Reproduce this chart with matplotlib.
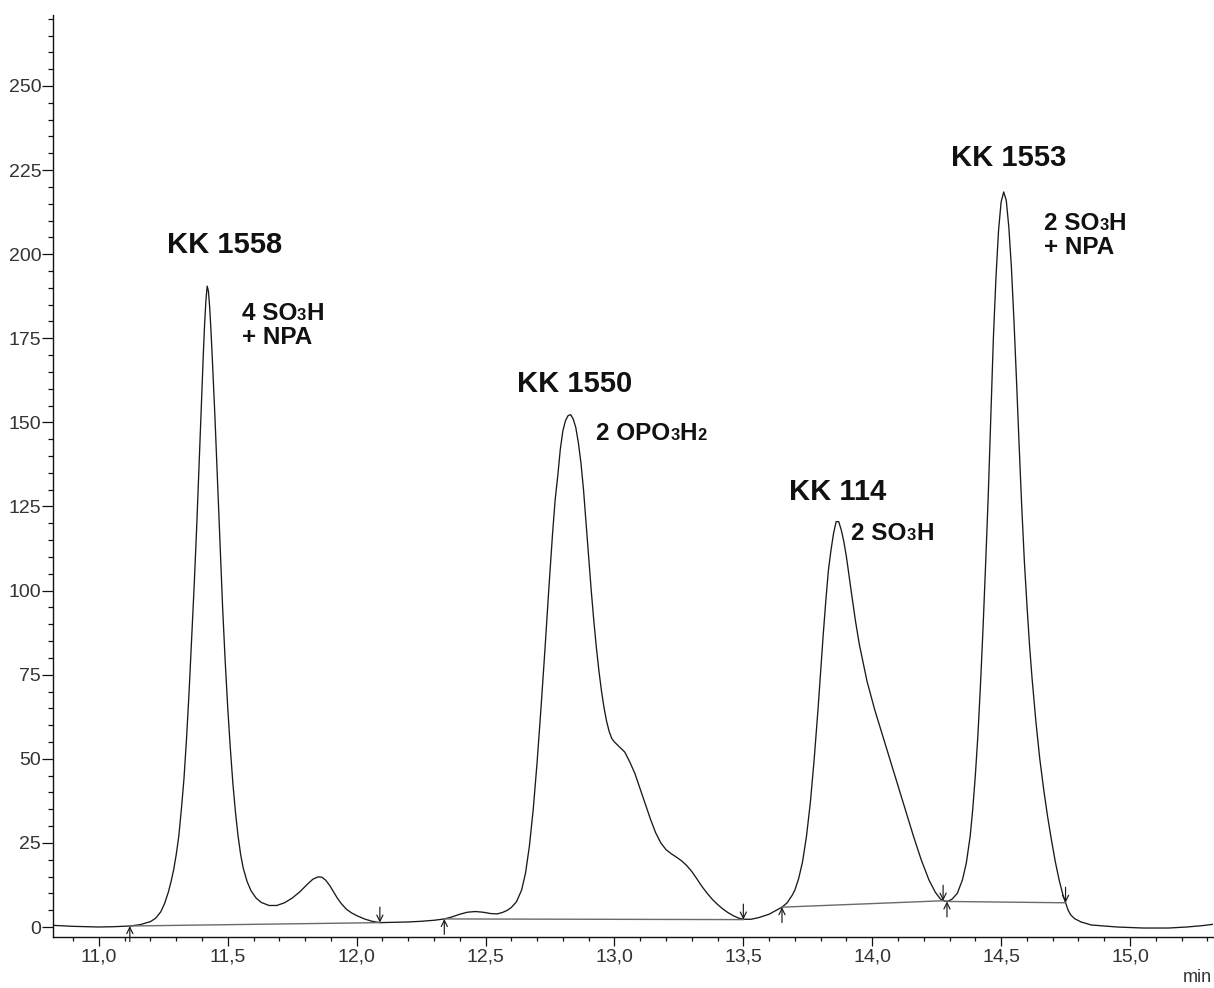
import matplotlib
matplotlib.use("Agg")
import matplotlib.pyplot as plt
from matplotlib.offsetbox import TextArea, HPacker, AnnotationBbox
from matplotlib.ticker import MultipleLocator, FuncFormatter
import re

plt.rcParams['font.family'] = ['Liberation Sans', 'DejaVu Sans']

# ---- chromatogram trace ----
time_min = [10.82, 10.90, 11.00, 11.06, 11.12, 11.16, 11.20, 11.22, 11.24, 11.255,
            11.27, 11.28, 11.29, 11.30, 11.31, 11.32, 11.33, 11.34, 11.35, 11.36,
            11.37, 11.38, 11.39, 11.40, 11.405, 11.41, 11.415, 11.42, 11.425, 11.43,
            11.435, 11.44, 11.45, 11.46, 11.47, 11.48, 11.49, 11.50, 11.51, 11.52,
            11.53, 11.54, 11.55, 11.56, 11.575, 11.59, 11.61, 11.63, 11.66, 11.69,
            11.72, 11.75, 11.78, 11.81, 11.83, 11.85, 11.865, 11.88, 11.895, 11.91,
            11.925, 11.94, 11.96, 11.98, 12.00, 12.03, 12.06, 12.09, 12.15, 12.20,
            12.25, 12.30, 12.34, 12.37, 12.40, 12.43, 12.46, 12.49, 12.52, 12.545,
            12.565, 12.585, 12.60, 12.62, 12.64, 12.655, 12.67, 12.685, 12.70, 12.715,
            12.73, 12.745, 12.76, 12.77, 12.78, 12.79, 12.80, 12.81, 12.82, 12.83,
            12.84, 12.85, 12.86, 12.87, 12.88, 12.89, 12.90, 12.91, 12.92, 12.93,
            12.94, 12.95, 12.96, 12.97, 12.98, 12.99, 13.00, 13.02, 13.04, 13.06,
            13.08, 13.10, 13.12, 13.14, 13.16, 13.18, 13.20, 13.22, 13.24, 13.26,
            13.28, 13.30, 13.32, 13.34, 13.36, 13.38, 13.40, 13.42, 13.44, 13.46,
            13.48, 13.50, 13.53, 13.56, 13.60, 13.65, 13.67, 13.69, 13.70, 13.715,
            13.73, 13.745, 13.76, 13.775, 13.79, 13.80, 13.81, 13.82, 13.83, 13.84,
            13.85, 13.86, 13.87, 13.88, 13.89, 13.90, 13.91, 13.92, 13.935, 13.95,
            13.98, 14.01, 14.04, 14.07, 14.10, 14.13, 14.16, 14.19, 14.22, 14.245,
            14.265, 14.28, 14.295, 14.31, 14.33, 14.35, 14.365, 14.38, 14.39, 14.40,
            14.41, 14.42, 14.43, 14.44, 14.45, 14.46, 14.47, 14.48, 14.49, 14.50,
            14.51, 14.52, 14.53, 14.54, 14.55, 14.56, 14.57, 14.58, 14.59, 14.60,
            14.61, 14.62, 14.635, 14.65, 14.665, 14.68, 14.695, 14.71, 14.725, 14.74,
            14.75, 14.76, 14.77, 14.785, 14.81, 14.85, 14.95, 15.05, 15.15, 15.22,
            15.28, 15.322]
signal = [0.5, 0.2, 0.0, 0.1, 0.3, 0.7, 1.6, 2.6, 4.5, 7.0,
          10.5, 13.5, 17, 21.5, 27, 35, 44, 56, 70, 86,
          102, 120, 140, 160, 170, 179, 186, 190.5, 189, 184,
          177, 169, 152, 133, 114, 95, 79, 65, 53, 42.5,
          34, 27, 21.5, 17.5, 13.5, 10.8, 8.6, 7.3, 6.4, 6.4,
          7.2, 8.6, 10.5, 12.8, 14.2, 14.9, 14.8, 13.9, 12.4, 10.5,
          8.6, 7.0, 5.3, 4.2, 3.4, 2.4, 1.7, 1.3, 1.4, 1.5,
          1.7, 2.0, 2.4, 3.0, 3.8, 4.4, 4.6, 4.4, 4.0, 3.9,
          4.3, 5.0, 5.8, 7.5, 11, 16, 24, 35, 49, 65,
          82, 100, 117, 127, 134, 142, 147.5, 150.5, 152, 152.3,
          151, 148.5, 144, 138, 130, 120, 110, 100, 91, 83,
          76, 70, 65, 61, 58, 56, 55, 53.5, 52, 49,
          45.5, 41, 36.5, 32, 28, 25, 23, 21.8, 20.8, 19.7,
          18.3, 16.5, 14.3, 12, 10, 8.2, 6.7, 5.4, 4.3, 3.4,
          2.7, 2.3, 2.3, 2.8, 3.8, 5.9, 7.2, 9.5, 11, 14.5,
          19.5, 27, 37, 50, 65, 76, 87, 97, 106, 112,
          117, 120.5, 120.5, 118, 114.5, 110, 104.5, 99, 91, 84,
          73, 64.5, 57, 49.5, 42, 34.5, 27, 20, 14, 10.3,
          8.3, 7.7, 7.7, 8.3, 10, 14, 19, 27, 35, 45,
          57, 72, 89, 108, 128, 152, 175, 193, 207, 215.5,
          218.5, 216, 208, 196, 180, 162, 143, 125, 109, 96,
          84, 74, 61, 50, 41, 33, 26, 19.5, 14, 9.5,
          7.2, 5.0, 3.6, 2.5, 1.5, 0.6, 0.0, -0.3, -0.3, 0.0,
          0.4, 0.8]

# ---- integration marks ----
peak_start_t = [11.12, 12.34, 13.65, 14.29]
peak_start_v = [0.3, 2.4, 5.9, 7.6]
peak_end_t = [12.09, 13.50, 14.275, 14.75]
peak_end_v = [1.3, 2.2, 7.8, 7.2]

# ---- annotations ----
peak_names = ["KK 1558", "KK 1550", "KK 114", "KK 1553"]
name_t = [11.486, 12.847, 13.864, 14.531]
name_v = [200.4, 159.0, 126.9, 226.2]

group_lines = [["4 SO{3}H", "+ NPA"], ["2 OPO{3}H{2}"], ["2 SO{3}H"], ["2 SO{3}H", "+ NPA"]]
group_t = [11.554, 12.930, 13.919, 14.667]
group_v = [180.4, 144.8, 115.0, 207.2]

x_major = [11.0, 11.5, 12.0, 12.5, 13.0, 13.5, 14.0, 14.5, 15.0]
y_major = [0, 25, 50, 75, 100, 125, 150, 175, 200, 225, 250]

W, H = 1214, 988
fig = plt.figure(figsize=(W / 100, H / 100), dpi=100)
ax = fig.add_axes([53 / W, (H - 937) / H, (1213 - 53) / W, (937 - 15) / H])
ax.set_xlim(10.822, 15.322)
ax.set_ylim(-2.97, 271.1)

ax.plot(time_min, signal, color='#1a1a1a', lw=0.95, solid_joinstyle='round')

# baselines
for ts, vs, te, ve in zip(peak_start_t, peak_start_v, peak_end_t, peak_end_v):
    ax.plot([ts, te], [vs, ve], color='#6a6a6a', lw=1.0)

arrow_len = 4.6
ap = dict(arrowstyle='->,head_length=0.45,head_width=0.22', color='#1a1a1a', lw=0.85,
          shrinkA=0, shrinkB=0)
for ts, vs in zip(peak_start_t, peak_start_v):
    ax.annotate('', xy=(ts, vs), xytext=(ts, vs - arrow_len), arrowprops=ap)
for te, ve in zip(peak_end_t, peak_end_v):
    ax.annotate('', xy=(te, ve), xytext=(te, ve + arrow_len), arrowprops=ap)

# labels
for name, t, v in zip(peak_names, name_t, name_v):
    ax.text(t, v, name, ha='center', va='baseline', fontsize=21,
            fontweight='bold', color='#111111')


def make_line(s, size=17.5):
    parts = re.split(r'(\{[^}]*\})', s)
    kids = []
    for p in parts:
        if not p:
            continue
        if p.startswith('{'):
            kids.append(TextArea(p[1:-1], textprops=dict(fontsize=size * 0.68,
                                                         fontweight='bold', color='#111111')))
        else:
            kids.append(TextArea(p, textprops=dict(fontsize=size, fontweight='bold',
                                                   color='#111111')))
    return HPacker(children=kids, align='baseline', pad=0, sep=0)


line_gap_pt = 16.9
for lines, t, v in zip(group_lines, group_t, group_v):
    for i, ln in enumerate(lines):
        box = make_line(ln)
        ab = AnnotationBbox(box, (t, v), xycoords='data', xybox=(0, -3.8 - i * line_gap_pt),
                            boxcoords='offset points', box_alignment=(0, 0),
                            frameon=False, pad=0)
        ax.add_artist(ab)

# axes styling
for s in ['top', 'right']:
    ax.spines[s].set_visible(False)
for s in ['left', 'bottom']:
    ax.spines[s].set_linewidth(1.0)
    ax.spines[s].set_color('#111111')

ax.set_xticks(x_major)
ax.xaxis.set_minor_locator(MultipleLocator(0.1))
ax.set_yticks(y_major)
ax.yaxis.set_minor_locator(MultipleLocator(5))
ax.xaxis.set_major_formatter(FuncFormatter(lambda v, p: f"{v:.1f}".replace('.', ',')))
ax.yaxis.set_major_formatter(FuncFormatter(lambda v, p: f"{int(round(v))}"))

ax.tick_params(axis='y', which='major', length=7.7, width=0.9, pad=0.8,
               labelsize=14, labelcolor='#333333', color='#111111')
ax.tick_params(axis='y', which='minor', length=3.6, width=0.9, color='#111111')
ax.tick_params(axis='x', which='major', length=6.5, width=0.9, pad=2.0,
               labelsize=14, labelcolor='#333333', color='#111111')
ax.tick_params(axis='x', which='minor', length=3.0, width=0.9, color='#111111')

fig.text(1212 / W, 1 - 977 / H, 'min', ha='right', va='center', fontsize=13, color='#333333')

fig.savefig('out.png', dpi=100)
